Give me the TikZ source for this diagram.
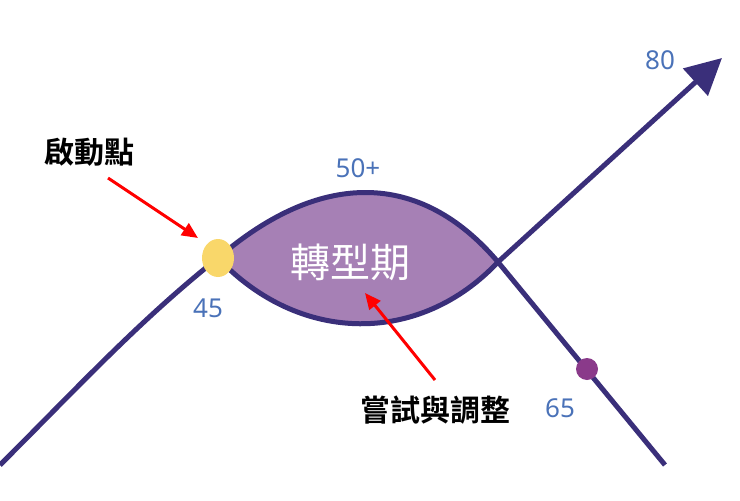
\documentclass[tikz,border=0pt]{standalone}
\usepackage{fontspec}
\setmainfont{Noto Sans}
\newfontfamily\cjk{Noto Sans CJK TC}[BoldFont={Noto Sans CJK TC Bold}]
\usetikzlibrary{arrows.meta,shapes.geometric}
\definecolor{lin}{HTML}{3A2F7A}
\definecolor{lens}{HTML}{A680B5}
\definecolor{num}{HTML}{4A72B8}
\definecolor{ylw}{HTML}{F9D76A}
\definecolor{pdot}{HTML}{8A3A8A}
\tikzset{curve/.style={draw=lin,line width=5pt},
 numlab/.style={text=num,font=\fontsize{26}{30}\selectfont},
 lab/.style={font=\cjk\bfseries\fontsize{30}{36}\selectfont},
 red arrow/.style={draw=red,line width=3pt,-{Triangle[length=16pt,width=14pt]}}}
\begin{document}
\begin{tikzpicture}[x=1pt,y=-1pt]
\useasboundingbox (0,0) rectangle (740,501);
\coordinate (a) at (218,258);
\coordinate (x) at (498,262);
\coordinate (tip) at (722,58);
\coordinate (end) at (665,465);
\fill[lens] (a) .. controls (320,170) and (420,170) .. (x) .. controls (420,345) and (300,345) .. (a);
\draw[curve] (0,465) .. controls (80,385) and (140,320) .. (a);
\draw[curve] (a) .. controls (320,170) and (420,170) .. (x) -- (end);
\draw[curve,-{Triangle[length=36pt,width=36pt]}] (a) .. controls (300,345) and (420,345) .. (x) -- (tip);
\node[ellipse,fill=ylw,minimum width=32pt,minimum height=38pt,inner sep=0pt] (yd) at (a) {};
\node[circle,fill=pdot,minimum size=22pt,inner sep=0pt] (pd) at (587,369) {};
\node[numlab] (n80) at (660,60) {80};
\node[numlab] (n50) at (358,168) {50+};
\node[numlab] (n45) at (208,308) {45};
\node[numlab] (n65) at (560,408) {65};
\node[font=\cjk\fontsize{40}{48}\selectfont,text=white] (t) at (350,262) {轉型期};
\node[lab] (s) at (90,152) {啟動點};
\node[lab] (e) at (435,410) {嘗試與調整};
\draw[red arrow] (108,178) -- (198,238);
\draw[red arrow] (435,380) -- (365,293);
\end{tikzpicture}
\end{document}
